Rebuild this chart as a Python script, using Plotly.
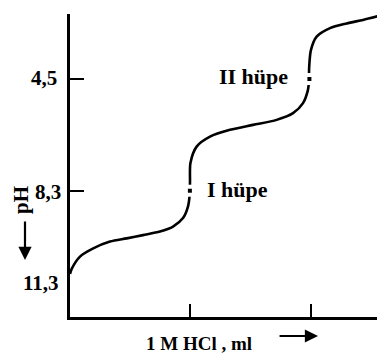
import plotly.graph_objects as go

# Titration curve (1 M HCl added, ml) vs pH (reversed axis)
volume_ml = [0.0, 0.15, 0.83, 1.93, 3.32, 4.71, 6.06, 7.47, 8.55, 9.38, 9.79, 9.93,
             9.96, 10.0, 10.51, 11.62, 13.28, 15.19, 17.15, 18.51, 19.34, 19.75,
             19.83, 19.85, 20.0, 20.47, 21.58, 22.96, 24.32, 25.5]
ph_values = [11.13, 10.95, 10.54, 10.26, 10.03, 9.92, 9.81, 9.69, 9.52, 9.23, 8.84, 8.45,
             8.0, 7.35, 6.80, 6.46, 6.23, 6.06, 5.89, 5.66, 5.32, 4.87,
             4.55, 4.1, 3.51, 3.06, 2.77, 2.61, 2.49, 2.37]

equiv_ml = [9.95, 19.87]
equiv_ph = [8.3, 4.5]
equiv_labels = ["I hüpe", "II hüpe"]

y_tick_vals = [4.5, 8.3]
y_label_vals = [4.5, 8.3, 11.3]
y_label_text = ["4,5", "8,3", "11,3"]
x_tick_vals = [10, 20]

x_title = "1 M HCl , ml"
y_title = "pH"

serif = "Liberation Serif"

fig = go.Figure()
fig.add_trace(go.Scatter(x=volume_ml, y=ph_values, mode="lines",
                         line=dict(color="black", width=2.6, shape="spline", smoothing=0.8),
                         hoverinfo="skip", showlegend=False))
# gap around the equivalence points, then the point itself
fig.add_trace(go.Scatter(x=equiv_ml, y=equiv_ph, mode="markers",
                         marker=dict(symbol="square", size=12, color="white"),
                         hoverinfo="skip", showlegend=False))
fig.add_trace(go.Scatter(x=equiv_ml, y=equiv_ph, mode="markers",
                         marker=dict(symbol="square", size=4, color="black"),
                         hoverinfo="skip", showlegend=False))

annotations = []
# equivalence point labels
annotations.append(dict(x=equiv_ml[0], y=equiv_ph[0], xref="x", yref="y", text=equiv_labels[0],
                        showarrow=False, xanchor="left", yanchor="middle", xshift=15, yshift=1,
                        font=dict(family=serif, size=22, color="black", weight="bold")))
annotations.append(dict(x=equiv_ml[1], y=equiv_ph[1], xref="x", yref="y", text=equiv_labels[1],
                        showarrow=False, xanchor="right", yanchor="middle", xshift=-19, yshift=3,
                        font=dict(family=serif, size=22, color="black", weight="bold")))
# y labels
label_shifts = [-11, -7, -9]
label_yshift = [1, -1, -4]
for v, t, s, ys in zip(y_label_vals, y_label_text, label_shifts, label_yshift):
    annotations.append(dict(x=0, y=v, xref="paper", yref="y", text=t, showarrow=False,
                            xanchor="right", yanchor="middle", xshift=s, yshift=ys,
                            font=dict(family=serif, size=21, color="black", weight="bold")))
# pH vertical label
annotations.append(dict(x=0, y=0.386, xref="paper", yref="paper", text=y_title, textangle=-90,
                        showarrow=False, xanchor="center", yanchor="middle", xshift=-49,
                        font=dict(family=serif, size=21, color="black", weight="bold")))
# down arrow under pH
annotations.append(dict(x=-0.1466, y=0.188, xref="paper", yref="paper", text="",
                        showarrow=True, ax=0, ay=-40, arrowhead=2, arrowsize=1.2,
                        arrowwidth=2.2, arrowcolor="black"))
# x title
annotations.append(dict(x=0.4218, y=-0.086, xref="paper", yref="paper", text=x_title,
                        showarrow=False, xanchor="center", yanchor="middle",
                        font=dict(family=serif, size=19, color="black", weight="bold")))
# right arrow after x title
annotations.append(dict(x=0.808, y=-0.0627, xref="paper", yref="paper", text="",
                        showarrow=True, ax=-40, ay=0, arrowhead=2, arrowsize=1.2,
                        arrowwidth=2.2, arrowcolor="black"))

fig.update_layout(
    width=377, height=356,
    margin=dict(l=70, r=0, t=14, b=39),
    paper_bgcolor="white", plot_bgcolor="white",
    annotations=annotations,
    xaxis=dict(range=[0, 25.48], showgrid=False, zeroline=False, showline=True,
               linecolor="black", linewidth=3, tickvals=x_tick_vals, ticks="inside",
               ticklen=13, tickwidth=2, tickcolor="black", showticklabels=False),
    yaxis=dict(range=[12.595, 2.289], showgrid=False, zeroline=False, showline=True,
               linecolor="black", linewidth=3, tickvals=y_tick_vals, ticks="inside",
               ticklen=14, tickwidth=2, tickcolor="black", showticklabels=False),
)

fig.write_html("out.html", config={"displayModeBar": False})
